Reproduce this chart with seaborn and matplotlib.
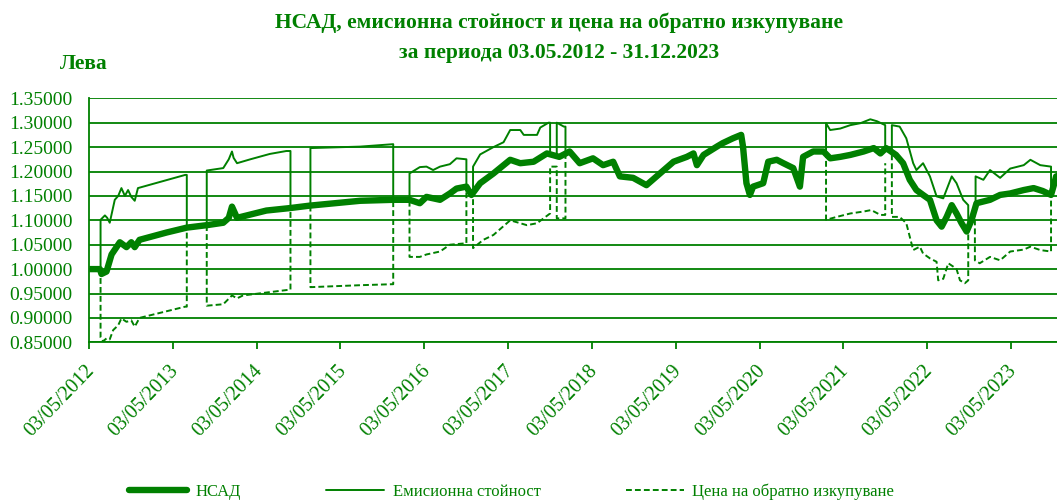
# Import libraries
import numpy as np
import pandas as pd
import matplotlib
matplotlib.use('Agg')
import matplotlib.pyplot as plt
import matplotlib.dates as mdates
import matplotlib.transforms as mtransforms
from matplotlib.lines import Line2D
import seaborn as sns

# region Data (NaN = the line joins the NAV line)
nav_dates = ['2012-05-03', '2012-06-18', '2012-06-25', '2012-07-17', '2012-08-08', '2012-09-13',
             '2012-10-12', '2012-11-02', '2012-11-17', '2012-12-08', '2013-04-05', '2013-07-02',
             '2013-09-27', '2013-12-08', '2014-01-01', '2014-01-15', '2014-02-06', '2014-06-14',
             '2014-09-24', '2014-12-19', '2015-07-28', '2015-12-19', '2016-02-28', '2016-04-13',
             '2016-05-12', '2016-07-10', '2016-08-22', '2016-09-20', '2016-11-02', '2016-11-24',
             '2017-01-01', '2017-02-28', '2017-05-12', '2017-06-25', '2017-08-22', '2017-10-19',
             '2017-12-12', '2018-01-26', '2018-03-11', '2018-05-08', '2018-06-21', '2018-08-04',
             '2018-09-02', '2018-10-30', '2018-12-27', '2019-02-24', '2019-04-24', '2019-06-21',
             '2019-07-20', '2019-08-04', '2019-09-02', '2019-10-30', '2019-11-24', '2020-01-08',
             '2020-02-13', '2020-02-21', '2020-03-07', '2020-03-22', '2020-04-05', '2020-05-19',
             '2020-06-10', '2020-07-17', '2020-08-15', '2020-09-27', '2020-10-26', '2020-11-09',
             '2020-12-23', '2021-02-06', '2021-03-07', '2021-04-20', '2021-06-03', '2021-07-31',
             '2021-09-13', '2021-10-12', '2021-11-06', '2021-12-19', '2022-01-19', '2022-02-17',
             '2022-03-18', '2022-04-16', '2022-05-16', '2022-06-14', '2022-07-06', '2022-07-28',
             '2022-08-19', '2022-09-09', '2022-10-01', '2022-10-23', '2022-11-13', '2022-12-05',
             '2023-02-02', '2023-03-18', '2023-05-01', '2023-06-29', '2023-08-11', '2023-09-20',
             '2023-10-26', '2023-11-09', '2023-11-17', '2023-12-29']
nav_values = [1.000, 1.000, 0.990, 0.995, 1.030, 1.055,
              1.045, 1.055, 1.045, 1.060, 1.075, 1.085,
              1.090, 1.095, 1.105, 1.128, 1.105, 1.120,
              1.125, 1.130, 1.140, 1.142, 1.142, 1.135,
              1.148, 1.142, 1.155, 1.165, 1.169, 1.152,
              1.176, 1.196, 1.224, 1.217, 1.220, 1.237,
              1.230, 1.241, 1.217, 1.227, 1.213, 1.220,
              1.190, 1.187, 1.172, 1.196, 1.220, 1.230,
              1.237, 1.213, 1.234, 1.251, 1.258, 1.268,
              1.275, 1.251, 1.176, 1.152, 1.169, 1.176,
              1.220, 1.224, 1.217, 1.207, 1.169, 1.230,
              1.241, 1.241, 1.227, 1.230, 1.234, 1.241,
              1.248, 1.237, 1.248, 1.234, 1.217, 1.183,
              1.162, 1.152, 1.142, 1.100, 1.087, 1.107,
              1.131, 1.114, 1.094, 1.077, 1.100, 1.135,
              1.142, 1.152, 1.155, 1.162, 1.166, 1.160,
              1.152, 1.175, 1.190, 1.195]

issue_dates = ['2012-06-21', '2012-06-21', '2012-07-10', '2012-07-20', '2012-07-31', '2012-08-22',
               '2012-09-06', '2012-09-20', '2012-10-05', '2012-10-19', '2012-11-02', '2012-11-17',
               '2012-12-01', '2013-06-25', '2013-07-02', '2013-07-02', None,
               '2013-09-27', '2013-09-27', '2013-12-08', '2014-01-01', '2014-01-15', '2014-01-22',
               '2014-02-06', '2014-04-05', '2014-06-29', '2014-09-09', '2014-09-27', '2014-09-27', None,
               '2014-12-23', '2014-12-23', '2015-07-28', '2015-12-19', '2015-12-19', None,
               '2016-02-28', '2016-02-28', '2016-04-13', '2016-05-12', '2016-06-10', '2016-07-10',
               '2016-08-22', '2016-09-20', '2016-11-02', '2016-11-02', None,
               '2016-12-01', '2016-12-01', '2017-01-01', '2017-02-28', '2017-04-13', '2017-05-12',
               '2017-06-25', '2017-07-10', '2017-09-06', '2017-09-20', '2017-10-26', '2017-11-02',
               '2017-11-02', None,
               '2017-12-01', '2017-12-01', '2018-01-01', '2018-01-08', '2018-01-08', None,
               '2021-02-17', '2021-02-17', '2021-03-07', '2021-04-20', '2021-06-03', '2021-07-17',
               '2021-08-29', '2021-09-27', '2021-11-02', '2021-11-02', None,
               '2021-12-01', '2021-12-01', '2022-01-04', '2022-02-02', '2022-03-04', '2022-03-18',
               '2022-04-16', '2022-05-16', '2022-06-14', '2022-07-13', '2022-08-19', '2022-09-09',
               '2022-10-08', '2022-10-30', '2022-10-30', None,
               '2022-12-01', '2022-12-01', '2023-01-04', '2023-02-02', '2023-03-18', '2023-05-01',
               '2023-06-29', '2023-07-28', '2023-09-09', '2023-10-26', '2023-10-26']
issue_values = [1.000, 1.101, 1.110, 1.105, 1.095, 1.142,
                1.150, 1.166, 1.150, 1.162, 1.148, 1.140,
                1.166, 1.193, 1.193, 1.085, np.nan,
                1.090, 1.202, 1.207, 1.225, 1.241, 1.228,
                1.217, 1.225, 1.236, 1.242, 1.242, 1.125, np.nan,
                1.130, 1.248, 1.251, 1.256, 1.142, np.nan,
                1.140, 1.196, 1.209, 1.210, 1.203, 1.210,
                1.215, 1.227, 1.225, 1.160, np.nan,
                1.160, 1.210, 1.235, 1.250, 1.260, 1.285,
                1.285, 1.275, 1.275, 1.290, 1.300, 1.300,
                1.237, np.nan,
                1.230, 1.300, 1.292, 1.292, 1.235, np.nan,
                1.240, 1.299, 1.285, 1.288, 1.295, 1.299,
                1.307, 1.303, 1.295, 1.248, np.nan,
                1.240, 1.295, 1.292, 1.268, 1.217, 1.203,
                1.217, 1.190, 1.149, 1.145, 1.190, 1.176,
                1.142, 1.131, 1.080, np.nan,
                1.130, 1.190, 1.183, 1.203, 1.187, 1.206,
                1.213, 1.224, 1.213, 1.210, 1.152]

redeem_dates = ['2012-06-21', '2012-06-21', '2012-07-02', '2012-07-17', '2012-07-31', '2012-08-15',
                '2012-09-06', '2012-09-20', '2012-10-12', '2012-11-02', '2012-11-17', '2012-12-08',
                '2013-06-25', '2013-07-02', '2013-07-02', None,
                '2013-09-27', '2013-09-27', '2013-12-08', '2014-01-15', '2014-02-06', '2014-03-04',
                '2014-09-09', '2014-09-27', '2014-09-27', None,
                '2014-12-23', '2014-12-23', '2015-07-28', '2015-12-12', '2015-12-19', '2015-12-19', None,
                '2016-02-28', '2016-02-28', '2016-04-13', '2016-05-12', '2016-07-10', '2016-08-22',
                '2016-11-02', '2016-11-02', '2016-12-01', '2016-12-01', '2017-01-15', '2017-02-28',
                '2017-05-12', '2017-07-24', '2017-09-06', '2017-11-02', '2017-11-02', '2017-12-01',
                '2017-12-01', '2018-01-08', '2018-01-08', None,
                '2021-02-17', '2021-02-17', '2021-04-05', '2021-06-03', '2021-07-31', '2021-09-02',
                '2021-10-12', '2021-11-02', '2021-11-02', None,
                '2021-12-01', '2021-12-01', '2022-01-04', '2022-02-02', '2022-03-04', '2022-04-02',
                '2022-04-16', '2022-05-16', '2022-06-14', '2022-06-21', '2022-07-13', '2022-08-04',
                '2022-08-26', '2022-09-09', '2022-09-24', '2022-10-15', '2022-10-30', '2022-10-30', None,
                '2022-11-28', '2022-11-28', '2022-12-19', '2023-02-02', '2023-03-18', '2023-05-01',
                '2023-06-29', '2023-07-28', '2023-09-09', '2023-10-26', '2023-10-26']
redeem_values = [1.000, 0.860, 0.852, 0.858, 0.856, 0.875,
                 0.885, 0.899, 0.892, 0.895, 0.882, 0.900,
                 0.923, 0.923, 1.085, np.nan,
                 1.090, 0.925, 0.928, 0.946, 0.940, 0.946,
                 0.957, 0.958, 1.125, np.nan,
                 1.130, 0.963, 0.967, 0.969, 0.969, 1.142, np.nan,
                 1.140, 1.025, 1.025, 1.030, 1.036, 1.050,
                 1.053, 1.169, 1.155, 1.043, 1.060, 1.070,
                 1.100, 1.090, 1.094, 1.114, 1.210, 1.210,
                 1.104, 1.104, 1.235, np.nan,
                 1.240, 1.101, 1.107, 1.114, 1.118, 1.121,
                 1.111, 1.111, 1.217, np.nan,
                 1.235, 1.107, 1.107, 1.094, 1.039, 1.046,
                 1.032, 1.022, 1.015, 0.977, 0.980, 1.012,
                 1.005, 1.000, 0.977, 0.971, 0.977, 1.080, np.nan,
                 1.120, 1.018, 1.012, 1.025, 1.018, 1.036,
                 1.040, 1.046, 1.039, 1.036, 1.152]

series_labels = ['НСАД', 'Емисионна стойност', 'Цена на обратно изкупуване']
title_lines = ['НСАД, емисионна стойност и цена на обратно изкупуване',
               'за периода 03.05.2012 - 31.12.2023']
y_ticks = [0.85, 0.90, 0.95, 1.00, 1.05, 1.10, 1.15, 1.20, 1.25, 1.30, 1.35]
# endregion


# Build a tidy frame, one segment id for every piece between NaN breaks
def to_frame(dates, values):
    df = pd.DataFrame({'date': pd.to_datetime(dates), 'value': values})
    df['seg'] = df['value'].isna().cumsum()
    return df.dropna().reset_index(drop=True)


nav = to_frame(nav_dates, nav_values)
issue = to_frame(issue_dates, issue_values)
redeem = to_frame(redeem_dates, redeem_values)

# Set the theme and fonts (after set_theme, it resets font.family)
sns.set_theme(style='white')
plt.rcParams['font.family'] = ['Liberation Serif', 'DejaVu Serif']
green = '#008000'

fig = plt.figure(figsize=(10.57, 5.0), dpi=100)
ax = fig.add_axes([0.0845, 0.3154, 0.9244, 0.488])

# Draw the three lines
sns.lineplot(data=nav, x='date', y='value', units='seg', estimator=None, sort=False,
             color=green, linewidth=4.6, ax=ax, solid_capstyle='butt')
sns.lineplot(data=issue, x='date', y='value', units='seg', estimator=None, sort=False,
             color=green, linewidth=1.4, ax=ax)
sns.lineplot(data=redeem, x='date', y='value', units='seg', estimator=None, sort=False,
             color=green, linewidth=1.4, linestyle=(0, (3, 1.6)), ax=ax)

# Axis limits and ticks
ax.set_xlim(pd.Timestamp('2012-05-03'), pd.Timestamp('2024-01-01'))
ax.set_ylim(0.85, 1.35)
ax.set_yticks(y_ticks)
ax.yaxis.set_major_formatter(plt.FuncFormatter(lambda v, p: f'{v:.5f}'))
ax.xaxis.set_major_locator(mdates.YearLocator(base=1, month=5, day=3))
ax.xaxis.set_major_formatter(mdates.DateFormatter('%d/%m/%Y'))
ax.set_xlabel('')
ax.set_ylabel('')

# Grid and spines
ax.grid(axis='y', color=green, linewidth=1.3)
ax.grid(axis='x', visible=False)
for side in ['top', 'right']:
    ax.spines[side].set_visible(False)
for side in ['left', 'bottom']:
    ax.spines[side].set_color(green)
    ax.spines[side].set_linewidth(1.3)

ax.tick_params(axis='y', length=0, pad=12, labelsize=14, labelcolor=green)
ax.tick_params(axis='x', bottom=True, length=5, width=1.3, color=green, pad=11,
               labelsize=14.5, labelcolor=green)
# Rotated date labels, nudged a little up and left
nudge = mtransforms.ScaledTranslation(-4 / 100, 3 / 100, fig.dpi_scale_trans)
for lab in ax.get_xticklabels():
    lab.set_rotation(46)
    lab.set_ha('right')
    lab.set_va('top')
    lab.set_rotation_mode('anchor')
    lab.set_transform(lab.get_transform() + nudge)

# Title and unit label
fig.text(0.529, 1 - 23 / 500, title_lines[0], ha='center', va='center',
         fontsize=15.5, fontweight='bold', color=green)
fig.text(0.529, 1 - 53 / 500, title_lines[1], ha='center', va='center',
         fontsize=15.5, fontweight='bold', color=green)
fig.text(60 / 1057, 1 - 64 / 500, 'Лева', ha='left', va='center',
         fontsize=15.5, fontweight='bold', color=green)

# Legend at the bottom
handles = [Line2D([], [], color=green, linewidth=4.6, solid_capstyle='round'),
           Line2D([], [], color=green, linewidth=1.4),
           Line2D([], [], color=green, linewidth=1.4, linestyle=(0, (3, 1.6)))]
fig.legend(handles, series_labels, loc='center', bbox_to_anchor=(0.484, 1 - 492 / 500),
           ncol=3, frameon=False, fontsize=12, labelcolor=green, handlelength=3.5,
           handletextpad=0.5, columnspacing=5.1)

# Save the plot
plt.savefig('out.png', dpi=100)
